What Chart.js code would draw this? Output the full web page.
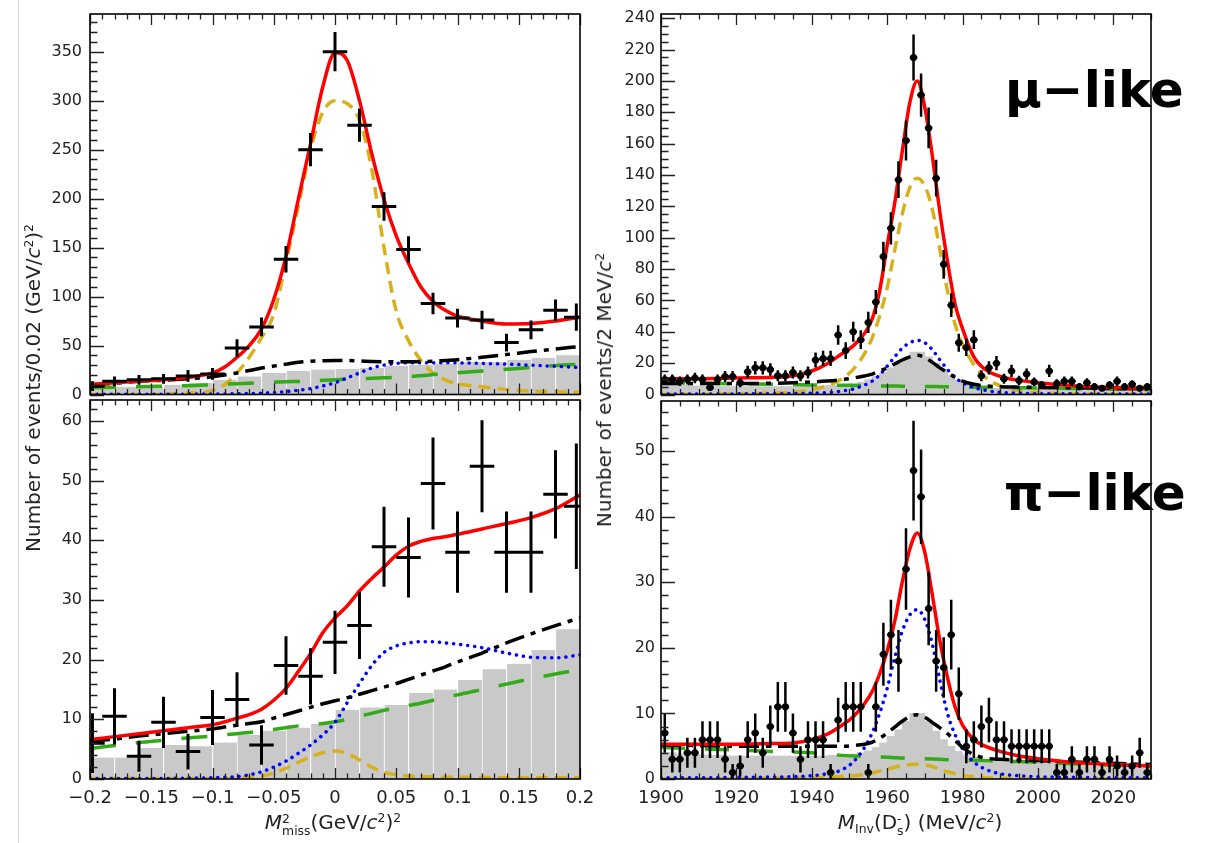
<!DOCTYPE html>
<html>
<head>
<meta charset="utf-8">
<script src="https://cdn.jsdelivr.net/npm/chart.js@4.4.0/dist/chart.umd.min.js"></script>
<style>
  body { margin: 0; background: #fff; }
  #page { position: relative; width: 1209px; height: 843px; overflow: hidden; font-family: "DejaVu Sans", sans-serif; color: #222; }
  canvas { position: absolute; }
  #vline { position: absolute; left: 18px; top: 0; width: 1px; height: 843px; background: #d8d8d8; }
  .ytitle { position: absolute; white-space: nowrap; font-size: 20px; transform: translate(-50%, -50%) rotate(-90deg); }
  .xtitle { position: absolute; white-space: nowrap; font-size: 20px; transform: translate(-50%, -50%); }
  sup { font-size: 0.62em; vertical-align: 0.55em; line-height: 0; }
  sub { font-size: 0.62em; vertical-align: -0.3em; line-height: 0; }
  .ss { display: inline-block; font-size: 0.62em; line-height: 0.95; vertical-align: -0.45em; text-align: left; }
  .ss span { display: block; }
  .tag { position: absolute; font-weight: bold; font-size: 50px; line-height: 1; color: #000; white-space: nowrap; }
</style>
</head>
<body>
<div id="page">
  <div id="vline"></div>
  <canvas id="muMiss" width="590" height="400" style="left:0px;top:0px"></canvas>
  <canvas id="piMiss" width="605" height="453" style="left:0px;top:390px"></canvas>
  <canvas id="muInv" width="600" height="400" style="left:590px;top:0px"></canvas>
  <canvas id="piInv" width="600" height="453" style="left:590px;top:390px"></canvas>

  <div class="ytitle" style="left:33px;top:388px">Number of events/0.02 (GeV/<i>c</i><sup>2</sup>)<sup>2</sup></div>
  <div class="ytitle" style="left:604px;top:390px">Number of events/2 MeV/<i>c</i><sup>2</sup></div>
  <div class="xtitle" style="left:333px;top:823px"><i>M</i><span class="ss"><span>2</span><span>miss</span></span>(GeV/<i>c</i><sup>2</sup>)<sup>2</sup></div>
  <div class="xtitle" style="left:920px;top:823px"><i>M</i><sub>Inv</sub>(D<span class="ss"><span>-</span><span>s</span></span>) (MeV/<i>c</i><sup>2</sup>)</div>
  <div class="tag" style="left:1005px;top:65px">μ−like</div>
  <div class="tag" style="left:1004px;top:468px">π−like</div>
</div>
<script>
// ---- missing mass squared panels (left), bins of 0.02 (GeV/c^2)^2
const missX = [-0.198, -0.18, -0.16, -0.14, -0.12, -0.1, -0.08, -0.06, -0.04, -0.02, 0, 0.02, 0.04, 0.06, 0.08, 0.1, 0.12, 0.14, 0.16, 0.18, 0.197];
const muMissY = [8.5, 13.5, 15, 16, 19, 21, 47.5, 69, 138, 250, 350, 275, 192, 148, 93, 78, 76, 53, 66, 86, 79];
const muMissErr = [5, 5, 5, 5, 6, 6, 9, 9.5, 13.5, 17, 20, 17, 14.5, 13.5, 11, 9.5, 9.5, 9, 9.5, 11, 14];
const piMissY = [6.0, 10.5, 3.8, 9.5, 4.6, 10.3, 13.3, 5.7, 19.0, 17.2, 22.9, 25.7, 38.9, 37.1, 49.5, 38.0, 52.4, 38.0, 38.0, 47.7, 45.7];
const piMissErr = [5, 4.7, 2.6, 4.3, 3, 4.6, 4.6, 3.3, 4.9, 4.7, 5.3, 5.6, 6.7, 6.7, 7.7, 6.8, 7.7, 6.8, 6.8, 7.4, 10.5];

const missBins = [-0.19, -0.17, -0.15, -0.13, -0.11, -0.09, -0.07, -0.05, -0.03, -0.01, 0.01, 0.03, 0.05, 0.07, 0.09, 0.11, 0.13, 0.15, 0.17, 0.19];
const muMissBkg = [8, 8, 8, 10, 12, 15, 18.5, 22, 24, 25.5, 26, 27, 29, 30.5, 31.5, 33, 33, 35.5, 37.5, 40];
const piMissBkg = [3.6, 3.6, 5.2, 5.7, 5.5, 6.1, 7.4, 8.1, 8.6, 9.2, 11.6, 12.0, 12.4, 14.4, 15.0, 16.6, 18.4, 19.3, 21.6, 25.1];

const missGrid = [-0.2, -0.18, -0.16, -0.14, -0.12, -0.1, -0.09, -0.08, -0.07, -0.06, -0.05, -0.04, -0.03, -0.02, -0.01, 0, 0.01, 0.02, 0.03, 0.04, 0.05, 0.06, 0.07, 0.08, 0.09, 0.1, 0.12, 0.14, 0.16, 0.18, 0.2];
const muMissTotal = [10, 12, 13.5, 15, 17.5, 22, 28, 38, 50, 67, 97, 141, 199, 256, 314, 349, 341, 300, 246, 199, 162, 134, 110, 95, 86, 80, 75, 72, 72.5, 75, 79];
const muMissSignal = [0, 0, 0, 0.5, 1.5, 4, 10, 22, 38, 58, 82, 135, 192, 250, 288, 300, 297, 280, 230, 150, 85, 55, 35, 22, 15, 11, 8, 5, 3.5, 2.8, 2.2];
const muMissBkgSum = [10, 11.5, 13.5, 14.5, 16, 18, 20, 22, 24.5, 27, 29, 31, 33, 34, 34.5, 34.8, 34.7, 34.3, 33.8, 33.5, 33.4, 33.4, 33.6, 34, 34.8, 35.6, 38, 40.8, 43.8, 46.5, 49];
const muMissComb = [7, 7.5, 8, 8.5, 9, 10, 10.5, 11, 11.5, 12, 12.5, 13, 13.3, 13.8, 14.5, 15, 15.5, 16, 16.5, 17, 17.5, 18.2, 19.2, 20.3, 21.3, 22.3, 24, 25.8, 27.6, 29.5, 31];
const muMissPeak = [0.3, 0.3, 0.3, 0.3, 0.4, 0.5, 0.6, 0.8, 1, 1.4, 2, 3, 4.3, 6, 8.7, 12, 17, 22, 27, 30, 31.8, 32.4, 32.5, 32.5, 32.4, 32.3, 31.7, 31, 30, 28.8, 27.5];

const piMissTotal = [6.6, 7.1, 7.6, 8.1, 8.6, 9.1, 9.6, 10.2, 10.8, 11.7, 13.2, 15.2, 18, 21, 24.5, 27, 29, 31.5, 33.6, 35.5, 37.5, 39, 39.8, 40.3, 40.6, 41, 41.9, 42.8, 43.8, 45.3, 47.6];
const piMissSignal = [0.1, 0.1, 0.1, 0.1, 0.1, 0.1, 0.1, 0.15, 0.25, 0.5, 1, 1.8, 2.8, 3.7, 4.4, 4.7, 4.3, 3.2, 2, 1.1, 0.7, 0.5, 0.4, 0.35, 0.3, 0.3, 0.25, 0.2, 0.2, 0.2, 0.2];
const piMissBkgSum = [6.3, 6.7, 7.2, 7.6, 8, 8.4, 8.7, 9, 9.3, 9.6, 10.2, 10.8, 11.4, 12, 12.6, 13.1, 13.6, 14.2, 14.8, 15.4, 16, 16.7, 17.4, 18.1, 18.8, 19.6, 21.1, 22.8, 24.3, 25.7, 27];
const piMissComb = [5.1, 5.6, 6.1, 6.5, 6.9, 7.2, 7.4, 7.6, 7.8, 8, 8.3, 8.6, 8.9, 9.1, 9.3, 9.6, 10, 10.5, 11, 11.5, 11.9, 12.3, 12.7, 13.2, 13.7, 14.1, 15, 15.9, 16.8, 17.6, 18.3];
const piMissPeak = [0.1, 0.1, 0.1, 0.1, 0.15, 0.2, 0.3, 0.4, 0.7, 1.2, 2, 3, 4.3, 5.7, 7.4, 9.5, 12.8, 16, 19, 21.2, 22.3, 22.8, 23, 23, 22.8, 22.6, 22, 21.1, 20.4, 20.3, 20.8];

// ---- D_s invariant mass panels (right), bins of 2 MeV/c^2
const invX = [1901, 1903, 1905, 1907, 1909, 1911, 1913, 1915, 1917, 1919, 1921, 1923, 1925, 1927, 1929, 1931, 1933, 1935, 1937, 1939,
  1941, 1943, 1945, 1947, 1949, 1951, 1953, 1955, 1957, 1959, 1961, 1963, 1965, 1967, 1969, 1971, 1973, 1975, 1977, 1979,
  1981, 1983, 1985, 1987, 1989, 1991, 1993, 1995, 1997, 1999, 2001, 2003, 2005, 2007, 2009, 2011, 2013, 2015, 2017, 2019,
  2021, 2023, 2025, 2027, 2029];
const muInvY = [9.5, 9.5, 8.5, 9.5, 10.5, 9.5, 4.5, 9.5, 11.5, 11.5, 7.5, 14.5, 17, 17, 16, 12, 12, 14, 12, 14,
  22, 23, 23, 38, 28, 40, 35, 46, 59, 88, 106, 137, 162, 215, 191, 170, 138, 83, 57, 33,
  30, 35, 12, 17, 20, 10, 15, 9, 13, 8, 6, 15, 7, 8.5, 8.5, 5, 7.5, 5, 4, 6,
  8.5, 5, 6.5, 4, 5];
const muInvErr = [3.2, 3.2, 3, 3.2, 3.3, 3.2, 2.3, 3.2, 3.5, 3.5, 2.8, 3.9, 4.2, 4.2, 4, 3.5, 3.5, 3.8, 3.5, 3.8,
  4.8, 4.9, 4.9, 6.2, 5.3, 6.4, 6, 6.8, 7.7, 9.4, 10.3, 11.7, 12.7, 14.7, 13.8, 13, 11.7, 9.1, 7.6, 5.8,
  5.5, 6, 3.5, 4.2, 4.5, 3.2, 3.9, 3, 3.6, 2.8, 2.5, 3.9, 2.7, 3, 3, 2.3, 2.8, 2.3, 2, 2.5,
  3, 2.3, 2.6, 2, 2.3];
const piInvY = [7, 3, 3, 4, 4, 6, 6, 6, 3, 1, 2, 6, 7, 4, 8, 11, 11, 7, 3, 6,
  6, 6, 1, 9, 11, 11, 11, 1, 11, 19, 22, 18, 32, 47, 43, 26, 18, 17, 22, 13,
  5, 6, 8, 9, 6, 6, 5, 5, 5, 5, 5, 5, 1, 1, 3, 1, 3, 3, 1, 3,
  2, 1, 2, 4, 1];
const piInvErr = [3, 2, 2, 2.3, 2.3, 2.8, 2.8, 2.8, 2, 1.3, 1.6, 2.8, 3, 2.3, 3.2, 3.8, 3.8, 3, 2, 2.8,
  2.8, 2.8, 1.3, 3.4, 3.8, 3.8, 3.8, 1.3, 3.8, 4.8, 5.3, 4.7, 6.2, 7.6, 7.2, 5.6, 4.7, 4.6, 5.3, 4,
  2.6, 2.8, 3.2, 3.4, 2.8, 2.8, 2.6, 2.6, 2.6, 2.6, 2.6, 2.6, 1.3, 1.3, 2, 1.3, 2, 2, 1.3, 2,
  1.6, 1.3, 1.6, 2.3, 1.3];
const muInvBkg = [7, 6.5, 6, 6, 5.5, 5.5, 5, 5, 5, 5, 5, 5, 5, 5, 5, 5, 5, 5, 5, 5.5,
  5.5, 5.5, 6, 6, 6.5, 7, 8, 9.5, 11.5, 14, 17, 20, 23.5, 27, 27, 24, 20, 16, 12, 9,
  6.5, 5, 4.5, 4.5, 4, 4, 4, 4, 4, 4, 3.5, 3.5, 3.5, 3.5, 3.5, 3.5, 3, 3, 3, 3,
  3, 3, 3, 3, 3];
const piInvBkg = [4, 4, 3.8, 3.8, 3.7, 3.7, 3.6, 3.6, 3.6, 3.5, 3.5, 3.5, 3.5, 3.5, 3.5, 3.5, 3.5, 3.5, 3.5, 3.5,
  3.5, 3.5, 3.6, 3.6, 3.7, 3.8, 4, 4.3, 4.8, 5.5, 6.5, 7.5, 8.8, 10, 10, 8.8, 7.3, 6, 5, 4.2,
  3.6, 3.3, 3.1, 3, 3, 2.9, 2.9, 2.8, 2.8, 2.7, 2.7, 2.6, 2.6, 2.5, 2.5, 2.4, 2.4, 2.3, 2.3, 2.2,
  2.2, 2.1, 2.1, 2, 2];

const invGrid = [1900, 1910, 1920, 1930, 1935, 1940, 1944, 1948, 1951, 1954, 1956, 1958, 1960, 1962, 1964, 1966, 1968, 1970, 1972, 1974, 1976, 1978, 1980, 1983, 1986, 1990, 1995, 2000, 2010, 2020, 2030];
const muInvTotal = [10, 10, 10.5, 11, 12, 15, 19.5, 26, 31, 39, 48, 66, 95, 122, 155, 186, 200, 183, 152, 116, 85, 58, 42, 24, 16, 11.5, 9, 7.5, 5.5, 4.5, 4];
const muInvSignal = [0, 0.2, 0.5, 1, 1.5, 3, 5.5, 10, 16, 26, 36, 50, 68, 92, 115, 132, 138, 133, 118, 92, 66, 45, 32, 19, 11, 5.5, 2.5, 1.2, 0.4, 0.2, 0.1];
const muInvPeak = [0.3, 0.3, 0.4, 0.5, 0.6, 0.8, 1.2, 2.2, 3.5, 6, 8.5, 12.5, 18, 24, 29.5, 33, 34.5, 33, 28.5, 22, 16, 11, 7.5, 4.5, 2.7, 1.4, 0.8, 0.5, 0.4, 0.3, 0.3];
const muInvBkgSum = [7, 7, 7, 7.2, 7.5, 8, 8.6, 9.5, 10.5, 11.8, 13, 15, 17, 19.5, 22, 24, 25, 23.5, 20.5, 17, 14, 11, 8.5, 6.5, 5.5, 5, 4.7, 4.5, 4.2, 3.9, 3.6];
const muInvComb = [7.5, 7.2, 6.8, 6.5, 6.3, 6.1, 6, 5.9, 5.8, 5.7, 5.6, 5.5, 5.5, 5.4, 5.3, 5.3, 5.2, 5.1, 5.1, 5, 4.9, 4.9, 4.8, 4.7, 4.6, 4.5, 4.3, 4.1, 3.8, 3.4, 3];

const piInvTotal = [5.3, 5.3, 5.3, 5.4, 5.5, 6, 6.8, 8.2, 9.5, 11.5, 13.3, 16, 19.5, 24, 30, 35, 37.5, 34.5, 28, 21, 15.5, 11, 8.2, 6, 5, 4.2, 3.5, 3.1, 2.5, 2.2, 2];
const piInvSignal = [0, 0, 0.05, 0.1, 0.1, 0.15, 0.25, 0.4, 0.5, 0.7, 0.9, 1.2, 1.5, 1.8, 2.05, 2.2, 2.25, 2.15, 1.9, 1.5, 1.1, 0.8, 0.55, 0.35, 0.2, 0.1, 0.05, 0, 0, 0, 0];
const piInvPeak = [0.2, 0.2, 0.25, 0.3, 0.35, 0.5, 0.8, 1.4, 2.6, 4.8, 7, 10, 13.8, 18.5, 22.5, 25, 25.8, 24.3, 20.5, 15, 10, 6.8, 4.6, 2.6, 1.5, 0.8, 0.5, 0.35, 0.25, 0.2, 0.2];
const piInvBkgSum = [5.2, 5.1, 5, 5, 5, 5, 5, 5, 5.1, 5.3, 5.6, 6.2, 7, 7.9, 8.8, 9.5, 9.8, 9.4, 8.6, 7.8, 6.9, 5.9, 4.8, 3.7, 3.2, 3, 2.9, 2.8, 2.6, 2.4, 2.2];
const piInvComb = [4.8, 4.6, 4.4, 4.2, 4.1, 4, 3.8, 3.6, 3.5, 3.45, 3.4, 3.35, 3.3, 3.25, 3.2, 3.2, 3.15, 3.1, 3.05, 3, 2.95, 2.9, 2.9, 2.85, 2.8, 2.75, 2.65, 2.55, 2.3, 2.1, 1.9];

const RED = '#ff0000', GOLD = '#d6b11c', GREEN = '#33aa18', BLUE = '#0000ff', GRAY = '#c9c9c9';

// inward ROOT-like ticks and the frame, placed through the chart scales
const rootFrame = {
  id: 'rootFrame',
  afterDraw(chart, args, o) {
    const { ctx, chartArea: a, scales: { x, y } } = chart;
    const steps = (min, max, step) => {
      const out = [];
      for (let k = Math.ceil(min / step - 1e-6); k * step <= max + 1e-9; k++) out.push(k * step);
      return out;
    };
    const isMajor = (v, m) => Math.abs(v / m - Math.round(v / m)) < 1e-6;
    ctx.save();
    ctx.strokeStyle = '#222';
    ctx.lineWidth = 1.3;
    ctx.beginPath();
    steps(y.min, y.max, o.yMinor).forEach(v => {
      const py = Math.round(y.getPixelForValue(v)) + 0.5;
      ctx.moveTo(a.left, py);
      ctx.lineTo(a.left + (isMajor(v, o.yMajor) ? 14 : 7.5), py);
    });
    steps(x.min, x.max, o.xMinor).forEach(v => {
      const px = Math.round(x.getPixelForValue(v)) + 0.5;
      const len = isMajor(v, o.xMajor) ? 11 : 5.5;
      ctx.moveTo(px, a.bottom);
      ctx.lineTo(px, a.bottom - len);
      ctx.moveTo(px, a.top);
      ctx.lineTo(px, a.top + len);
    });
    ctx.stroke();
    ctx.strokeStyle = '#000';
    ctx.lineWidth = 1.6;
    ctx.strokeRect(a.left, a.top, a.right - a.left, a.bottom - a.top);
    ctx.restore();
  }
};

// crosses: bin width horizontally, statistical error vertically
const errorBars = {
  id: 'errorBars',
  afterDatasetsDraw(chart) {
    const { ctx, chartArea: a, scales: { x, y } } = chart;
    ctx.save();
    ctx.beginPath();
    ctx.rect(a.left, a.top, a.right - a.left, a.bottom - a.top);
    ctx.clip();
    chart.data.datasets.forEach(ds => {
      if (!ds.errY) return;
      ctx.strokeStyle = '#000';
      ctx.lineWidth = ds.crossWidth;
      ctx.beginPath();
      ds.data.forEach((p, i) => {
        const px = x.getPixelForValue(p.x), py = y.getPixelForValue(p.y);
        ctx.moveTo(x.getPixelForValue(p.x - ds.halfBin), py);
        ctx.lineTo(x.getPixelForValue(p.x + ds.halfBin), py);
        ctx.moveTo(px, y.getPixelForValue(Math.max(0, p.y - ds.errY[i])));
        ctx.lineTo(px, y.getPixelForValue(p.y + ds.errY[i]));
      });
      ctx.stroke();
    });
    ctx.restore();
  }
};

function curve(grid, vals, color, dash, order) {
  return {
    type: 'line', data: grid.map((x, i) => ({ x, y: vals[i] })),
    borderColor: color, borderWidth: 3.5, borderDash: dash,
    borderCapStyle: dash.length && dash[0] < 1 ? 'round' : 'butt',
    pointRadius: 0, fill: false, cubicInterpolationMode: 'monotone', order
  };
}

function hist(bins, vals, sep) {
  return {
    type: 'bar', data: bins.map((x, i) => ({ x, y: vals[i] })),
    backgroundColor: GRAY, borderColor: '#ffffff',
    borderWidth: sep ? { left: 1, right: 0, top: 0, bottom: 0 } : 0,
    barPercentage: 1, categoryPercentage: 1, order: 10
  };
}

function points(xs, ys, errs, halfBin, radius, width) {
  return {
    type: 'scatter', data: xs.map((x, i) => ({ x, y: ys[i] })),
    pointRadius: radius, pointBackgroundColor: '#000', pointBorderWidth: 0,
    errY: errs, halfBin: halfBin, crossWidth: width, order: 0
  };
}

function panel(id, cfg) {
  new Chart(document.getElementById(id), {
    type: 'scatter',
    data: { datasets: cfg.datasets },
    plugins: [errorBars, rootFrame],
    options: {
      responsive: false, animation: false, devicePixelRatio: 1,
      layout: { padding: cfg.pad },
      plugins: { legend: { display: false }, tooltip: { enabled: false }, rootFrame: cfg.ticks },
      scales: {
        x: {
          type: 'linear', min: cfg.xMin, max: cfg.xMax, offset: false,
          grid: { display: false, drawTicks: false, offset: false }, border: { display: false },
          ticks: {
            display: cfg.xLabels, stepSize: cfg.ticks.xMajor, includeBounds: false, maxTicksLimit: 50,
            autoSkip: false, maxRotation: 0, padding: 9, color: '#222',
            font: { family: 'DejaVu Sans', size: 18 }, callback: cfg.xFmt
          },
          afterFit: s => { s.height = cfg.xHeight; s.paddingLeft = 0; s.paddingRight = 0; }
        },
        y: {
          type: 'linear', min: 0, max: cfg.yMax,
          grid: { display: false, drawTicks: false }, border: { display: false },
          ticks: {
            stepSize: cfg.ticks.yMajor, includeBounds: false, maxTicksLimit: 50, padding: cfg.yPad,
            color: '#222', font: { family: 'DejaVu Sans', size: 16 }
          },
          afterFit: s => { s.width = cfg.yWidth; s.paddingTop = 0; s.paddingBottom = 0; }
        }
      }
    }
  });
}

const missFmt = v => (Math.round(v * 100) / 100).toString().replace('-', '\u2212');
const invFmt = v => String(Math.round(v));

panel('muMiss', {
  xMin: -0.2, xMax: 0.2, yMax: 388.5, xLabels: false, xHeight: 0, yWidth: 90, yPad: 8,
  pad: { left: 0, right: 10, top: 14, bottom: 5.5 },
  ticks: { xMajor: 0.05, xMinor: 0.01, yMajor: 50, yMinor: 10 }, xFmt: missFmt,
  datasets: [
    points(missX, muMissY, muMissErr, 0.01, 0, 3),
    curve(missGrid, muMissTotal, RED, [], 1),
    curve(missGrid, muMissBkgSum, '#000', [20, 7, 5, 7], 2),
    curve(missGrid, muMissPeak, BLUE, [0.1, 7], 3),
    curve(missGrid, muMissComb, GREEN, [26, 20], 4),
    curve(missGrid, muMissSignal, GOLD, [12, 7], 5),
    hist(missBins, muMissBkg, true)
  ]
});

panel('piMiss', {
  xMin: -0.2, xMax: 0.2, yMax: 63.5, xLabels: true, xHeight: 44, yWidth: 90, yPad: 8,
  pad: { left: 0, right: 25, top: 10, bottom: 20 },
  ticks: { xMajor: 0.05, xMinor: 0.01, yMajor: 10, yMinor: 2 }, xFmt: missFmt,
  datasets: [
    points(missX, piMissY, piMissErr, 0.01, 0, 3),
    curve(missGrid, piMissTotal, RED, [], 1),
    curve(missGrid, piMissBkgSum, '#000', [20, 7, 5, 7], 2),
    curve(missGrid, piMissPeak, BLUE, [0.1, 7], 3),
    curve(missGrid, piMissComb, GREEN, [26, 20], 4),
    curve(missGrid, piMissSignal, GOLD, [12, 7], 5),
    hist(missBins, piMissBkg, true)
  ]
});

panel('muInv', {
  xMin: 1900, xMax: 2030, yMax: 242.7, xLabels: false, xHeight: 0, yWidth: 71, yPad: 6,
  pad: { left: 0, right: 39, top: 14, bottom: 5.5 },
  ticks: { xMajor: 20, xMinor: 5, yMajor: 20, yMinor: 5 }, xFmt: invFmt,
  datasets: [
    points(invX, muInvY, muInvErr, 1, 3.5, 2.5),
    curve(invGrid, muInvTotal, RED, [], 1),
    curve(invGrid, muInvBkgSum, '#000', [20, 7, 5, 7], 2),
    curve(invGrid, muInvPeak, BLUE, [0.1, 7], 3),
    curve(invGrid, muInvComb, GREEN, [24, 20], 4),
    curve(invGrid, muInvSignal, GOLD, [12, 7], 5),
    hist(invX, muInvBkg, false)
  ]
});

panel('piInv', {
  xMin: 1900, xMax: 2030, yMax: 57.6, xLabels: true, xHeight: 44, yWidth: 71, yPad: 6,
  pad: { left: 0, right: 39, top: 11, bottom: 20 },
  ticks: { xMajor: 20, xMinor: 5, yMajor: 10, yMinor: 2 }, xFmt: invFmt,
  datasets: [
    points(invX, piInvY, piInvErr, 1, 3.5, 2.5),
    curve(invGrid, piInvTotal, RED, [], 1),
    curve(invGrid, piInvBkgSum, '#000', [20, 7, 5, 7], 2),
    curve(invGrid, piInvPeak, BLUE, [0.1, 7], 3),
    curve(invGrid, piInvComb, GREEN, [24, 20], 4),
    curve(invGrid, piInvSignal, GOLD, [12, 7], 5),
    hist(invX, piInvBkg, false)
  ]
});
</script>
</body>
</html>
